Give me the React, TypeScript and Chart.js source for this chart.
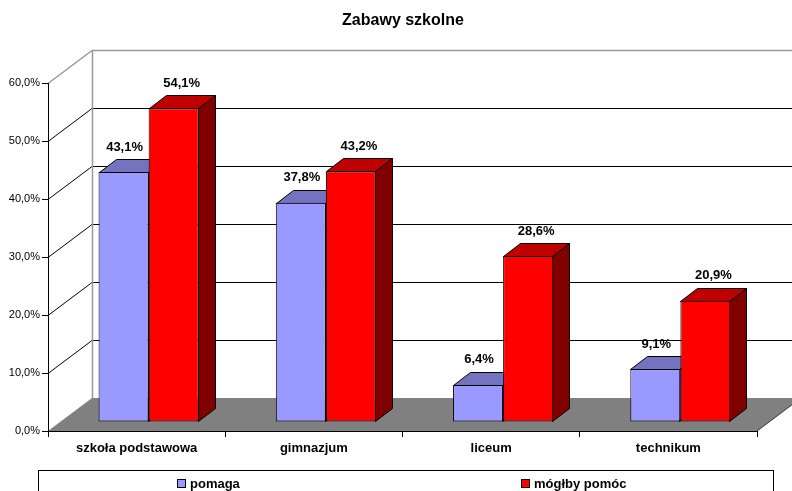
import React, { useEffect, useRef } from "react";
import { Chart, registerables } from "chart.js";

Chart.register(...registerables);

const TITLE = "Zabawy szkolne";
const categories = ["szkoła podstawowa", "gimnazjum", "liceum", "technikum"];
const seriesNames = ["pomaga", "mógłby pomóc"];
const pomaga = [43.1, 37.8, 6.4, 9.1];
const mogblyPomoc = [54.1, 43.2, 28.6, 20.9];
const yTicks = [0, 10, 20, 30, 40, 50, 60];

const FONT = "Arial, 'Liberation Sans', Helvetica, sans-serif";
const fmt = (v: number) => v.toFixed(1).replace(".", ",") + "%";

// 3D geometry (styling)
const WALL_DX = 44;
const WALL_DY = -33;
const BAR_SX = 12;
const BAR_SY = -9;
const BAR_DX = 17;
const BAR_DY = -13;

const faceColors = [
  { top: "#7373BF", side: "#4D4D80" },
  { top: "#BF0000", side: "#800000" },
];
const labelOffsetX = [1, 8];

const threeD = {
  id: "threeD",
  beforeDraw(chart: any) {
    const ctx = chart.ctx;
    const ys = chart.scales.y;
    const area = chart.chartArea;
    const W = chart.width;
    const left = area.left;
    const right = area.right;
    const y0 = ys.getPixelForValue(0);
    const yTop = ys.getPixelForValue(yTicks[yTicks.length - 1]);
    const bl = left + WALL_DX;
    ctx.save();
    ctx.fillStyle = "#ffffff";
    ctx.fillRect(bl, yTop + WALL_DY, W - bl, y0 - yTop);
    yTicks.forEach((v, i) => {
      if (v === 0) return;
      const py = Math.round(ys.getPixelForValue(v)) + 0.5;
      const last = i === yTicks.length - 1;
      ctx.strokeStyle = last ? "#999999" : "#000000";
      ctx.lineWidth = last ? 1.5 : 1;
      ctx.beginPath();
      ctx.moveTo(bl, py + WALL_DY);
      ctx.lineTo(W, py + WALL_DY);
      ctx.stroke();
      ctx.beginPath();
      ctx.moveTo(left, py);
      ctx.lineTo(bl, py + WALL_DY);
      ctx.stroke();
    });
    ctx.strokeStyle = "#999999";
    ctx.lineWidth = 1.5;
    ctx.beginPath();
    ctx.moveTo(bl + 0.5, yTop + WALL_DY);
    ctx.lineTo(bl + 0.5, y0 + WALL_DY);
    ctx.stroke();
    ctx.fillStyle = "#808080";
    ctx.beginPath();
    ctx.moveTo(left, y0);
    ctx.lineTo(right, y0);
    ctx.lineTo(right + WALL_DX, y0 + WALL_DY);
    ctx.lineTo(bl, y0 + WALL_DY);
    ctx.closePath();
    ctx.fill();
    ctx.strokeStyle = "#333333";
    ctx.lineWidth = 1;
    ctx.beginPath();
    ctx.moveTo(right, y0);
    ctx.lineTo(right + WALL_DX, y0 + WALL_DY);
    ctx.stroke();
    ctx.restore();
  },
  beforeDatasetsDraw(chart: any) {
    const ctx = chart.ctx;
    ctx.save();
    ctx.translate(BAR_SX, BAR_SY);
    ctx.lineWidth = 1;
    ctx.strokeStyle = "#000000";
    chart.data.datasets.forEach((_ds: any, di: number) => {
      const meta = chart.getDatasetMeta(di);
      const fc = faceColors[di];
      meta.data.forEach((bar: any) => {
        const l = Math.round(bar.x - bar.width / 2) + 0.5;
        const r = Math.round(bar.x + bar.width / 2) - 0.5;
        const t = Math.round(bar.y) + 0.5;
        const b = Math.round(bar.base) - 0.5;
        ctx.fillStyle = fc.side;
        ctx.beginPath();
        ctx.moveTo(r, t);
        ctx.lineTo(r + BAR_DX, t + BAR_DY);
        ctx.lineTo(r + BAR_DX, b + BAR_DY);
        ctx.lineTo(r, b);
        ctx.closePath();
        ctx.fill();
        ctx.stroke();
        ctx.fillStyle = fc.top;
        ctx.beginPath();
        ctx.moveTo(l, t);
        ctx.lineTo(r, t);
        ctx.lineTo(r + BAR_DX, t + BAR_DY);
        ctx.lineTo(l + BAR_DX, t + BAR_DY);
        ctx.closePath();
        ctx.fill();
        ctx.stroke();
      });
    });
  },
  afterDatasetsDraw(chart: any) {
    const ctx = chart.ctx;
    ctx.restore();
    ctx.save();
    ctx.font = `bold 13px ${FONT}`;
    ctx.fillStyle = "#000000";
    ctx.textAlign = "center";
    ctx.textBaseline = "middle";
    chart.data.datasets.forEach((ds: any, di: number) => {
      const meta = chart.getDatasetMeta(di);
      meta.data.forEach((bar: any, i: number) => {
        ctx.fillText(
          fmt(ds.data[i]),
          bar.x + BAR_SX + labelOffsetX[di],
          bar.y + BAR_SY - 25
        );
      });
    });
    ctx.restore();
  },
  afterDraw(chart: any) {
    const ctx = chart.ctx;
    ctx.save();
    ctx.font = `bold 16px ${FONT}`;
    ctx.fillStyle = "#000000";
    ctx.textAlign = "center";
    ctx.textBaseline = "middle";
    ctx.fillText(TITLE, 403, 21);
    ctx.strokeStyle = "#000000";
    ctx.lineWidth = 1;
    ctx.strokeRect(38.5, 470.5, 735, 40);
    const items = [177, 521];
    ctx.font = `bold 13px ${FONT}`;
    ctx.textAlign = "left";
    chart.data.datasets.forEach((ds: any, i: number) => {
      const x = items[i];
      ctx.fillStyle = ds.backgroundColor;
      ctx.fillRect(x, 479, 8, 8);
      ctx.strokeRect(x + 0.5, 479.5, 8, 8);
      ctx.fillStyle = "#000000";
      ctx.fillText(ds.label, x + 13, 484);
    });
    ctx.restore();
  },
};

export default function App() {
  const ref = useRef<HTMLCanvasElement>(null);
  useEffect(() => {
    if (!ref.current) return;
    const common = {
      borderColor: "#000000",
      borderWidth: 1,
      borderSkipped: false,
      categoryPercentage: 0.565,
      barPercentage: 1,
      clip: false,
    };
    const chart = new Chart(ref.current, {
      type: "bar",
      data: {
        labels: categories,
        datasets: [
          { label: seriesNames[0], data: pomaga, backgroundColor: "#9999FF", ...common } as any,
          { label: seriesNames[1], data: mogblyPomoc, backgroundColor: "#FF0000", ...common } as any,
        ],
      },
      options: {
        animation: false,
        responsive: true,
        maintainAspectRatio: false,
        layout: { padding: { left: 0, top: 83, right: 35, bottom: 30 } },
        plugins: {
          legend: { display: false },
          title: { display: false },
          tooltip: { enabled: false },
        },
        scales: {
          x: {
            afterFit: (s: any) => {
              s.height = 30;
            },
            offset: true,
            grid: {
              offset: true,
              drawOnChartArea: false,
              drawTicks: true,
              tickLength: 6,
              color: "#000000",
            },
            border: { display: true, color: "#000000", width: 1 },
            ticks: {
              color: "#000000",
              font: { family: FONT, size: 13, weight: "bold" },
              padding: 4,
              maxRotation: 0,
            },
          },
          y: {
            min: 0,
            max: 60,
            afterFit: (s: any) => {
              s.width = 48;
            },
            afterBuildTicks: (s: any) => {
              s.ticks = yTicks.map((v) => ({ value: v }));
            },
            grid: {
              drawOnChartArea: false,
              drawTicks: true,
              tickLength: 6,
              color: "#000000",
            },
            border: { display: true, color: "#000000", width: 1 },
            ticks: {
              color: "#000000",
              font: { family: FONT, size: 11 },
              padding: 2,
              callback: (v: any) => fmt(Number(v)),
            },
          },
        },
      } as any,
      plugins: [threeD],
    });
    return () => chart.destroy();
  }, []);
  return (
    <div
      style={{
        position: "absolute",
        left: 0,
        top: 0,
        width: 792,
        height: 491,
        background: "#ffffff",
      }}
    >
      <canvas ref={ref} />
    </div>
  );
}
